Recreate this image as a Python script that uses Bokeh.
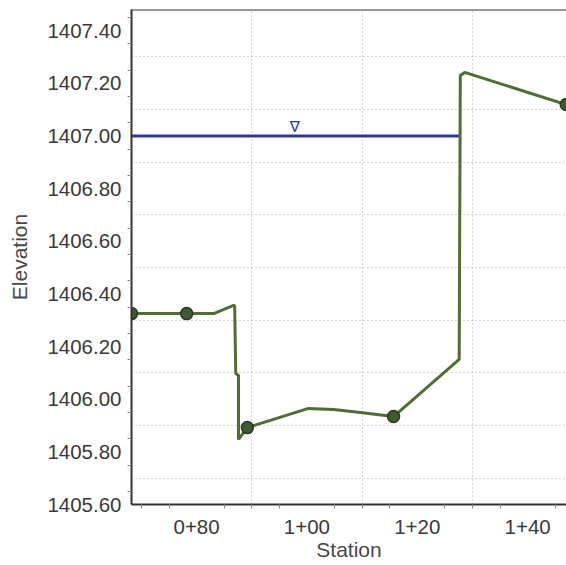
from bokeh.plotting import figure
from bokeh.models import Range1d, FixedTicker, Span
from bokeh.core.properties import value
from bokeh.embed import file_html
from bokeh.resources import INLINE

# Ground profile (station, elevation)
ground_sta = [68.2, 78.2, 83.1, 86.7, 86.9, 87.1, 87.6, 87.6, 89.2, 100.3, 104.8, 109.7, 115.7, 127.6, 127.8, 128.6, 147.0]
ground_elev = [1406.325, 1406.325, 1406.325, 1406.356, 1406.356, 1406.098, 1406.090, 1405.847, 1405.892,
               1405.965, 1405.961, 1405.949, 1405.934, 1406.151, 1407.229, 1407.241, 1407.119]
# Points shown with a dot marker
point_sta = [68.2, 78.2, 89.2, 115.7, 147.0]
point_elev = [1406.325, 1406.325, 1405.892, 1405.934, 1407.119]

# Water surface
ws_sta = [68.2, 127.7]
ws_elev = [1407.00, 1407.00]
ws_symbol_sta = [97.8]

# Axis ticks
x_major = [80, 100, 120, 140]
x_labels = ["0+80", "1+00", "1+20", "1+40"]
x_minor = [70, 75, 85, 90, 95, 105, 110, 115, 125, 130, 135, 145]
x_grid = [90, 110, 130]
y_major = [1405.6, 1405.8, 1406.0, 1406.2, 1406.4, 1406.6, 1406.8, 1407.0, 1407.2, 1407.4]
y_labels = ["1405.60", "1405.80", "1406.00", "1406.20", "1406.40", "1406.60", "1406.80", "1407.00", "1407.20", "1407.40"]
y_minor = [1405.65, 1405.75, 1405.85, 1405.95, 1406.05, 1406.15, 1406.25, 1406.35, 1406.45, 1406.55,
           1406.65, 1406.75, 1406.85, 1406.95, 1407.05, 1407.15, 1407.25, 1407.35, 1407.45]
y_grid = [1405.7, 1405.9, 1406.1, 1406.3, 1406.5, 1406.7, 1406.9, 1407.1, 1407.3]

X_START, X_END = 68.2, 147.05
Y_START, Y_END = 1405.60, 1407.48

p = figure(width=566, height=565, output_backend="svg", toolbar_location=None,
           x_range=Range1d(X_START, X_END), y_range=Range1d(Y_START, Y_END),
           min_border_left=131, min_border_right=0, min_border_top=9, min_border_bottom=61)
p.outline_line_color = None
p.background_fill_color = "white"
p.border_fill_color = "white"

FONT = "Liberation Sans"

# x axis
p.xaxis.ticker = FixedTicker(ticks=x_major, minor_ticks=x_minor)
p.xaxis.major_label_overrides = {t: l for t, l in zip(x_major, x_labels)}
p.xaxis.axis_label = "Station"
# y axis
p.yaxis.ticker = FixedTicker(ticks=y_major, minor_ticks=y_minor)
p.yaxis.major_label_overrides = {t: l for t, l in zip(y_major, y_labels)}
p.yaxis.axis_label = "Elevation"

for ax in (p.xaxis[0], p.yaxis[0]):
    ax.axis_line_color = "#333333"
    ax.axis_line_width = 2
    ax.major_tick_out = 0
    ax.major_tick_in = 0
    ax.minor_tick_out = 4
    ax.minor_tick_in = 0
    ax.minor_tick_line_color = "#888888"
    ax.major_label_text_font = FONT
    ax.major_label_text_font_size = "20.5px"
    ax.major_label_text_color = "#3a3a3a"
    ax.axis_label_text_font = FONT
    ax.axis_label_text_font_size = "21px"
    ax.axis_label_text_font_style = "normal"
    ax.axis_label_text_color = "#484848"

p.xaxis.major_label_standoff = 11
p.xaxis.axis_label_standoff = 1
p.yaxis.major_label_standoff = 6
p.yaxis.axis_label_standoff = 13

# grid
p.xgrid.ticker = FixedTicker(ticks=x_grid)
p.ygrid.ticker = FixedTicker(ticks=y_grid)
for g in (p.xgrid[0], p.ygrid[0]):
    g.grid_line_color = "#a8a8a8"
    g.grid_line_dash = "1 3"
    g.grid_line_width = 1

# top frame border
p.add_layout(Span(location=Y_END, dimension="width", line_color="#333333", line_width=2))

# water surface
p.line(ws_sta, ws_elev, line_color="#2b3a98", line_width=3)
p.text(x=ws_symbol_sta, y=[ws_elev[0]], text=["\u2207"], text_font=value("DejaVu Sans"),
       text_font_size="15px", text_align="center", text_baseline="bottom", y_offset=0,
       text_color="#2b3a98")

# ground
p.line(ground_sta, ground_elev, line_color="#4e6e32", line_width=3)
p.scatter(point_sta, point_elev, size=12, fill_color="#3f5a30", line_color="#2b3b20", line_width=1.5)

open("out.html", "w").write(file_html(p, INLINE))
